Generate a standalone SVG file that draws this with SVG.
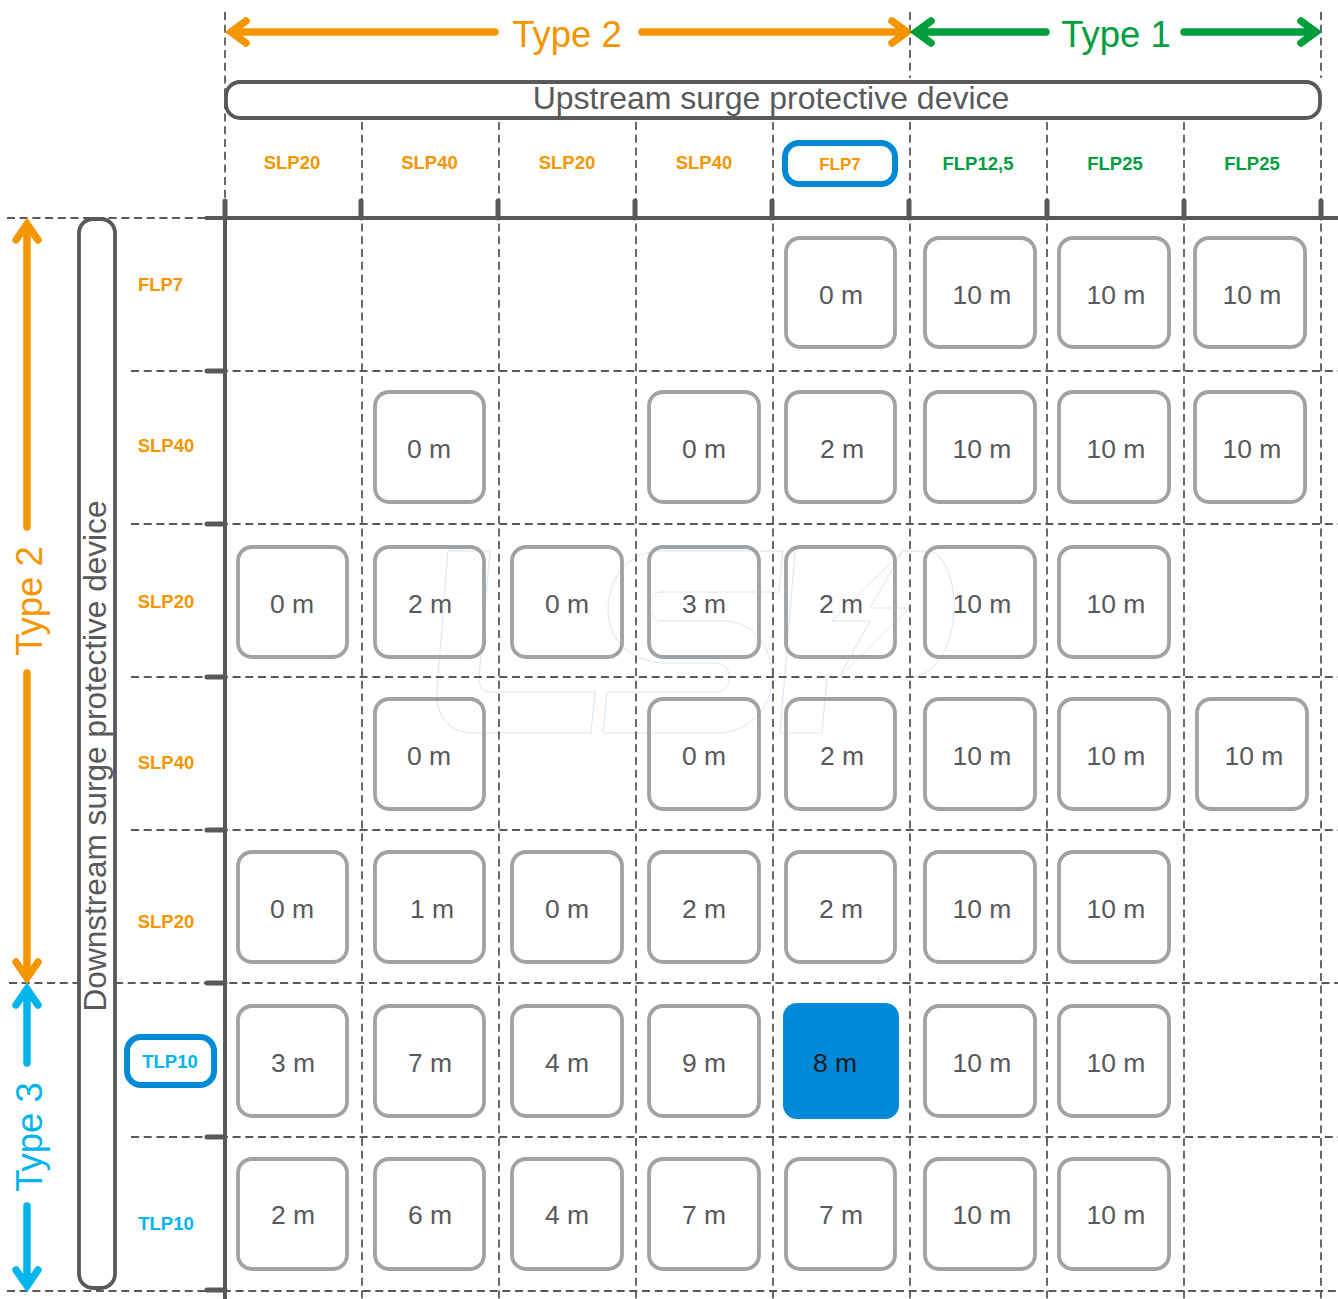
<svg xmlns="http://www.w3.org/2000/svg" width="1338" height="1299" viewBox="0 0 1338 1299">
<style>
text{font-family:"Liberation Sans",Arial,sans-serif}
.dash{stroke:#58595b;stroke-width:1.8;stroke-dasharray:8 4.7;fill:none}
.axis{stroke:#58595b;stroke-width:4;fill:none}
.tick{stroke:#58595b;stroke-width:5;fill:none;stroke-linecap:round}
.cell rect{fill:none;stroke:#a1a2a4;stroke-width:3.8}
.cell text,.val{font-size:26.5px;fill:#58595b;text-anchor:middle}
.hd{font-size:18.5px;font-weight:bold;text-anchor:middle}
.o{fill:#f59500}.g{fill:#009e3d}.b{fill:#00b5eb}
.sh{fill:none;stroke-width:7.5;stroke-linecap:round;stroke-linejoin:miter;stroke-miterlimit:6}
.ttl{font-size:36.5px;text-anchor:middle}
.bar{fill:none;stroke:#58595b;stroke-width:3.8}
.hl{fill:none;stroke:#0089d7;stroke-width:6}
.wm{fill:none;stroke:#d6e6f2;stroke-width:1}
</style>
<g id="watermark" class="wm">
<path d="M448 551H490L479 677Q478 692 490 692H595L591 733H477Q435 733 437 690Z"/>
<path d="M660 551H783L779 592H662C646 592 646 621 662 621H722C755 621 772 648 772 677C772 710 748 733 715 733H603L607 692H716C734 692 734 663 716 663H665C632 663 608 640 608 610C608 575 632 551 660 551Z"/>
<path d="M795 551L780 733H822L827 677H839L910 608H870L903 551L832 621H870L839 677M903 551H927C945 551 954 580 954 607C954 645 935 677 910 677"/>
</g>
<g id="connectors">
<g class="dash">
<path d="M225 12V218M362 122V1299M499 122V1299M636 122V1299M773 122V1299M910 12V78M910 122V1299M1047 122V1299M1184 122V1299M1321 12V78M1321 122V1299"/>
<path d="M7 218H225M131 371H1338M131 524H1338M131 677H1338M131 830H1338M9 983H78M115 983H1338M131 1137H1338M7 1291H1338"/>
</g>
<path class="axis" d="M205 218H1338M225 218V1299"/>
<path class="tick" d="M225 201V218M361 201V218M498 201V218M635 201V218M772 201V218M909 201V218M1047 201V218M1184 201V218M1321 201V218M207 371H225M207 524H225M207 677H225M207 830H225M207 983H225M207 1137H225M207 1290H225"/>
<path class="sh" stroke="#f59500" d="M495 32H235M246 21L231 32L246 43M642 32H903M892 21L907 32L892 43"/>
<path class="sh" stroke="#009e3d" d="M1046 32H920M931 21L916 32L931 43M1184 32H1312M1301 21L1316 32L1301 43"/>
<path class="sh" stroke="#f59500" d="M27 527V230M16 240L27 224L38 240M27 673V972M16 962L27 978L38 962"/>
<path class="sh" stroke="#00b5eb" d="M27 1063V995M16 1005L27 989L38 1005M27 1206V1280M16 1270L27 1286L38 1270"/>
</g>
<g id="type2-top"><text class="ttl o" x="567" y="47">Type 2</text></g>
<g id="type1-top"><text class="ttl g" x="1116" y="47">Type 1</text></g>
<g id="type2-left"><text class="ttl o" transform="translate(42 601) rotate(-90)">Type 2</text></g>
<g id="type3-left"><text class="ttl b" transform="translate(42 1137) rotate(-90)">Type 3</text></g>
<g id="upstream"><rect class="bar" x="226" y="82" width="1094" height="36" rx="14"/><text x="771" y="109" font-size="32" fill="#58595b" text-anchor="middle">Upstream surge protective device</text></g>
<g id="downstream"><rect class="bar" x="79" y="219" width="36" height="1069" rx="14"/><text transform="translate(105.5 756) rotate(-90)" font-size="31.6" fill="#58595b" text-anchor="middle">Downstream surge protective device</text></g>
<g id="col-headers">
<text class="hd o" x="292" y="169">SLP20</text><text class="hd o" x="429.5" y="169">SLP40</text><text class="hd o" x="567" y="169">SLP20</text><text class="hd o" x="704" y="169">SLP40</text>
<rect class="hl" x="785" y="143" width="110" height="41" rx="14"/><text class="hd o" x="840" y="170" style="font-size:17px">FLP7</text>
<text class="hd g" x="978" y="170">FLP12,5</text><text class="hd g" x="1115" y="170">FLP25</text><text class="hd g" x="1252" y="170">FLP25</text>
</g>
<g id="row-headers">
<text class="hd o" x="160.5" y="291">FLP7</text><text class="hd o" x="166" y="452">SLP40</text><text class="hd o" x="166" y="608">SLP20</text><text class="hd o" x="166" y="769">SLP40</text><text class="hd o" x="166" y="928">SLP20</text>
<rect class="hl" x="127" y="1037" width="87" height="48" rx="14"/><text class="hd b" x="170" y="1068">TLP10</text><text class="hd b" x="166" y="1230">TLP10</text>
</g>
<g id="row1" class="cell">
<rect x="786" y="238" width="109" height="109" rx="14"/><text x="841" y="304">0 m</text>
<rect x="925" y="238" width="110" height="109" rx="14"/><text x="982" y="304">10 m</text>
<rect x="1059" y="238" width="110" height="109" rx="14"/><text x="1116" y="304">10 m</text>
<rect x="1195" y="238" width="110" height="109" rx="14"/><text x="1252" y="304">10 m</text>
</g>
<g id="row2" class="cell">
<rect x="375" y="392" width="109" height="110" rx="14"/><text x="429" y="458">0 m</text>
<rect x="649" y="392" width="110" height="110" rx="14"/><text x="704" y="458">0 m</text>
<rect x="786" y="392" width="109" height="110" rx="14"/><text x="842" y="458">2 m</text>
<rect x="925" y="392" width="110" height="110" rx="14"/><text x="982" y="458">10 m</text>
<rect x="1059" y="392" width="110" height="110" rx="14"/><text x="1116" y="458">10 m</text>
<rect x="1195" y="392" width="110" height="110" rx="14"/><text x="1252" y="458">10 m</text>
</g>
<g id="row3" class="cell">
<rect x="238" y="547" width="109" height="110" rx="14"/><text x="292" y="613">0 m</text>
<rect x="375" y="547" width="109" height="110" rx="14"/><text x="430" y="613">2 m</text>
<rect x="512" y="547" width="110" height="110" rx="14"/><text x="567" y="613">0 m</text>
<rect x="649" y="547" width="110" height="110" rx="14"/><text x="704" y="613">3 m</text>
<rect x="786" y="547" width="109" height="110" rx="14"/><text x="841" y="613">2 m</text>
<rect x="925" y="547" width="110" height="110" rx="14"/><text x="982" y="613">10 m</text>
<rect x="1059" y="547" width="110" height="110" rx="14"/><text x="1116" y="613">10 m</text>
</g>
<g id="row4" class="cell">
<rect x="375" y="699" width="109" height="110" rx="14"/><text x="429" y="765">0 m</text>
<rect x="649" y="699" width="110" height="110" rx="14"/><text x="704" y="765">0 m</text>
<rect x="786" y="699" width="109" height="110" rx="14"/><text x="842" y="765">2 m</text>
<rect x="925" y="699" width="110" height="110" rx="14"/><text x="982" y="765">10 m</text>
<rect x="1059" y="699" width="110" height="110" rx="14"/><text x="1116" y="765">10 m</text>
<rect x="1197" y="699" width="110" height="110" rx="14"/><text x="1254" y="765">10 m</text>
</g>
<g id="row5" class="cell">
<rect x="238" y="852" width="109" height="110" rx="14"/><text x="292" y="918">0 m</text>
<rect x="375" y="852" width="109" height="110" rx="14"/><text x="432" y="918">1 m</text>
<rect x="512" y="852" width="110" height="110" rx="14"/><text x="567" y="918">0 m</text>
<rect x="649" y="852" width="110" height="110" rx="14"/><text x="704" y="918">2 m</text>
<rect x="786" y="852" width="109" height="110" rx="14"/><text x="841" y="918">2 m</text>
<rect x="925" y="852" width="110" height="110" rx="14"/><text x="982" y="918">10 m</text>
<rect x="1059" y="852" width="110" height="110" rx="14"/><text x="1116" y="918">10 m</text>
</g>
<g id="row6" class="cell">
<rect x="238" y="1006" width="109" height="110" rx="14"/><text x="293" y="1072">3 m</text>
<rect x="375" y="1006" width="109" height="110" rx="14"/><text x="430" y="1072">7 m</text>
<rect x="512" y="1006" width="110" height="110" rx="14"/><text x="567" y="1072">4 m</text>
<rect x="649" y="1006" width="110" height="110" rx="14"/><text x="704" y="1072">9 m</text>
<rect x="783" y="1003" width="116" height="116" rx="14" style="fill:#0089d7;stroke:none"/><text x="835" y="1072" style="fill:#1a1a1a">8 m</text>
<rect x="925" y="1006" width="110" height="110" rx="14"/><text x="982" y="1072">10 m</text>
<rect x="1059" y="1006" width="110" height="110" rx="14"/><text x="1116" y="1072">10 m</text>
</g>
<g id="row7" class="cell">
<rect x="238" y="1159" width="109" height="110" rx="14"/><text x="293" y="1224">2 m</text>
<rect x="375" y="1159" width="109" height="110" rx="14"/><text x="430" y="1224">6 m</text>
<rect x="512" y="1159" width="110" height="110" rx="14"/><text x="567" y="1224">4 m</text>
<rect x="649" y="1159" width="110" height="110" rx="14"/><text x="704" y="1224">7 m</text>
<rect x="786" y="1159" width="109" height="110" rx="14"/><text x="841" y="1224">7 m</text>
<rect x="925" y="1159" width="110" height="110" rx="14"/><text x="982" y="1224">10 m</text>
<rect x="1059" y="1159" width="110" height="110" rx="14"/><text x="1116" y="1224">10 m</text>
</g>
</svg>
